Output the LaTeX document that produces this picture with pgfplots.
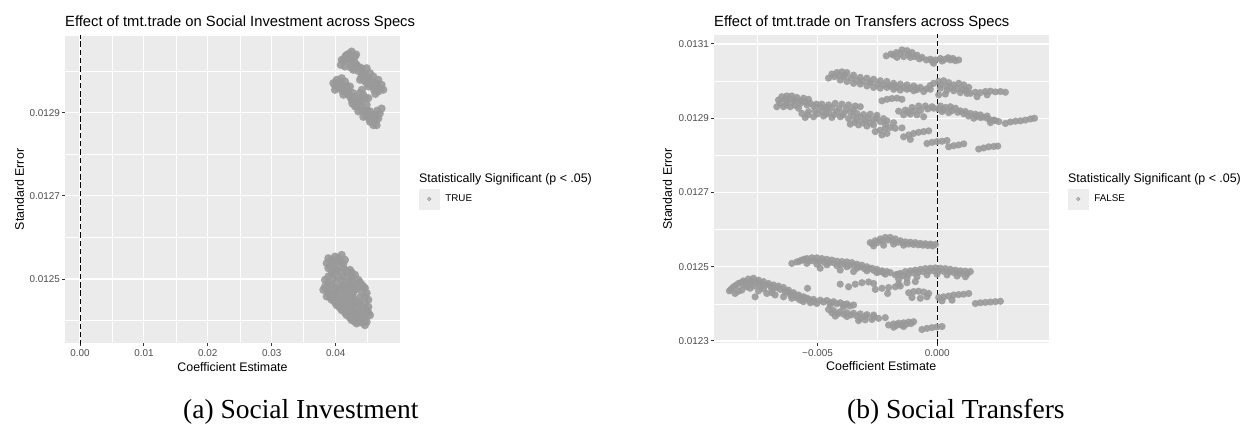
\documentclass[border=0pt]{standalone}
\usepackage{fontspec}
\setmainfont{Liberation Sans}
\newfontfamily\capfont{Liberation Serif}
\usepackage{pgfplots}
\pgfplotsset{compat=1.18}
\definecolor{ggbg}{HTML}{EBEBEB}
\definecolor{ptcol}{HTML}{999999}
\definecolor{tickcol}{HTML}{333333}
\definecolor{ticklab}{HTML}{4D4D4D}
\definecolor{keybg}{HTML}{EDEDED}
\pgfplotsset{ggstyle/.style={
  scale only axis, anchor=north west,
  axis background/.style={fill=ggbg},
  axis line style={draw=none},
  grid=both,
  major grid style={white, line width=1.1pt},
  minor grid style={white, line width=0.55pt},
  tick align=outside,
  major tick length=3pt, minor tick length=0pt,
  xtick pos=left, ytick pos=left,
  tick style={tickcol, line width=1pt},
  scaled ticks=false,
  tick label style={font=\fontsize{9.9}{10}\selectfont, text=ticklab},
  xticklabel style={anchor=north, inner sep=0pt, yshift=-3pt},
  yticklabel style={anchor=east, inner sep=0pt, xshift=-2pt},
  label style={font=\fontsize{12.4}{13}\selectfont, inner sep=0pt},
  xlabel={Coefficient Estimate}, ylabel={Standard Error},
  legend cell align=left,
  clip=true,
}}
\pgfplotsset{ggpts/.style={only marks, mark=*, mark size=3.6pt, color=ptcol,
  mark options={fill=ptcol, fill opacity=0.9, draw opacity=0},
  legend image code/.code={\fill[keybg] (0pt,-10pt) rectangle (20pt,10pt);
     \fill[ptcol, fill opacity=0.6] (10pt,0pt) circle (1.8pt);}}}
\begin{document}
\begin{tikzpicture}
\path[use as bounding box] (0,0) rectangle (1244pt,-425pt);
% ---------------- left panel ----------------
\begin{axis}[ggstyle, at={(65pt,-36pt)}, width=335pt, height=307pt,
  xmin=-0.002347, xmax=0.050063, ymin=0.0123461, ymax=0.0130844,
  xtick={0,0.01,0.02,0.03,0.04}, xticklabels={0.00,0.01,0.02,0.03,0.04},
  minor xtick={0.005,0.015,0.025,0.035,0.045},
  ytick={0.0125,0.0127,0.0129}, yticklabels={0.0125,0.0127,0.0129},
  minor ytick={0.0124,0.0126,0.0128,0.0130},
  xlabel style={at={(axis description cs:0.5,-0.0912)}, anchor=base},
  ylabel style={at={(axis description cs:-0.1224,0.5)}, anchor=base},
  legend style={draw=none, fill=none, inner sep=0pt, outer sep=0pt,
    at={(1.05672,0.46906)}, anchor=west, nodes={inner sep=0pt}, column sep=6pt,
    font=\fontsize{9.8}{10}\selectfont},
]
\addplot[ggpts, mark size=4.1pt] table {
x y
0.04094 0.013027
0.04172 0.013039
0.04250 0.013047
0.04302 0.013035
0.04224 0.013019
0.04328 0.013015
0.04406 0.013007
0.04146 0.013011
0.04276 0.013003
0.04485 0.013007
0.04537 0.012995
0.04589 0.012987
0.04667 0.012979
0.04719 0.012967
0.04745 0.012955
0.04667 0.012951
0.04615 0.012963
0.04563 0.012975
0.04458 0.012975
0.04511 0.012963
0.04432 0.012991
0.04380 0.012979
0.03963 0.012971
0.04015 0.012979
0.04094 0.012983
0.04146 0.012975
0.04067 0.012959
0.03989 0.012955
0.04146 0.012955
0.04198 0.012943
0.04276 0.012947
0.04250 0.012931
0.04328 0.012927
0.04380 0.012935
0.04406 0.012915
0.04485 0.012919
0.04458 0.012903
0.04537 0.012903
0.04563 0.012890
0.04615 0.012882
0.04667 0.012886
0.04641 0.012870
0.04537 0.012878
0.04485 0.012890
0.04302 0.012915
0.04354 0.012903
0.04380 0.012947
0.04432 0.012943
0.04719 0.012910
0.04041 0.012967
0.04224 0.012963
0.04120 0.012943
0.04432 0.012890
0.04589 0.012870
0.04120 0.013025
0.04200 0.013030
0.04355 0.013000
0.04510 0.012985
0.04620 0.012945
0.04020 0.012962
0.04200 0.012955
0.04350 0.012925
0.04500 0.012905
0.04600 0.012895
0.04150 0.013035
0.04210 0.013042
0.04270 0.013025
0.04240 0.013008
0.04300 0.013020
0.04360 0.013010
0.04420 0.012997
0.04460 0.012990
0.04520 0.012980
0.04570 0.012965
0.04640 0.012970
0.04700 0.012958
0.04600 0.012955
0.04490 0.012970
0.04400 0.012985
0.04080 0.013015
0.04320 0.013040
0.03990 0.012965
0.04060 0.012975
0.04110 0.012965
0.04170 0.012965
0.04100 0.012953
0.04170 0.012948
0.04230 0.012938
0.04290 0.012938
0.04260 0.012922
0.04330 0.012915
0.04400 0.012928
0.04420 0.012905
0.04470 0.012897
0.04510 0.012893
0.04560 0.012882
0.04600 0.012878
0.04620 0.012890
0.04690 0.012898
0.04650 0.012905
0.04410 0.012955
0.04460 0.012935
0.04510 0.012935
0.03885 0.012550
0.03989 0.012554
0.04094 0.012558
0.03859 0.012538
0.03963 0.012538
0.04067 0.012542
0.04146 0.012546
0.03885 0.012526
0.04015 0.012522
0.04120 0.012526
0.04224 0.012522
0.03937 0.012514
0.04172 0.012514
0.04302 0.012510
0.03833 0.012498
0.03963 0.012502
0.04094 0.012498
0.04224 0.012498
0.04354 0.012498
0.03833 0.012482
0.03937 0.012486
0.04120 0.012486
0.04250 0.012486
0.04406 0.012486
0.03807 0.012474
0.03911 0.012470
0.04041 0.012474
0.04172 0.012474
0.04302 0.012474
0.04458 0.012478
0.03859 0.012458
0.03989 0.012462
0.04120 0.012462
0.04250 0.012462
0.04485 0.012466
0.03937 0.012450
0.04067 0.012450
0.04198 0.012450
0.04302 0.012446
0.04511 0.012450
0.04015 0.012437
0.04146 0.012437
0.04250 0.012433
0.04380 0.012437
0.04511 0.012433
0.04094 0.012425
0.04224 0.012425
0.04354 0.012421
0.04485 0.012425
0.04172 0.012413
0.04302 0.012413
0.04432 0.012409
0.04537 0.012413
0.04250 0.012401
0.04380 0.012401
0.04485 0.012397
0.04328 0.012393
0.04458 0.012389
0.03937 0.012546
0.04041 0.012550
0.03911 0.012532
0.04015 0.012534
0.04120 0.012536
0.03963 0.012520
0.04067 0.012518
0.04172 0.012520
0.04250 0.012516
0.03885 0.012506
0.04015 0.012508
0.04120 0.012506
0.04250 0.012504
0.03885 0.012490
0.04015 0.012492
0.04172 0.012492
0.04302 0.012490
0.04380 0.012492
0.03859 0.012478
0.03989 0.012478
0.04094 0.012480
0.04224 0.012480
0.04354 0.012480
0.04432 0.012482
0.03885 0.012466
0.04015 0.012468
0.04146 0.012468
0.04276 0.012468
0.04406 0.012470
0.03911 0.012456
0.04041 0.012456
0.04172 0.012456
0.04276 0.012454
0.04380 0.012456
0.04458 0.012458
0.03989 0.012444
0.04120 0.012444
0.04224 0.012442
0.04354 0.012444
0.04458 0.012442
0.04067 0.012431
0.04198 0.012431
0.04302 0.012429
0.04432 0.012431
0.04146 0.012419
0.04276 0.012419
0.04406 0.012417
0.04511 0.012419
0.04224 0.012407
0.04354 0.012405
0.04458 0.012405
0.04302 0.012397
0.04406 0.012395
};
\addlegendentry{TRUE}
\addplot[forget plot, black, line width=0.9pt, dash pattern=on 5.5pt off 2.8pt] coordinates {(0,0.0122) (0,0.0132)};
\end{axis}
% ---------------- right panel ----------------
\begin{axis}[ggstyle, at={(714pt,-35pt)}, width=334.5pt, height=308pt,
  xmin=-0.009318, xmax=0.004638, ymin=0.0122946, ymax=0.0131242,
  xtick={-0.005,0}, xticklabels={−0.005,0.000},
  minor xtick={-0.0075,-0.0025,0.0025},
  ytick={0.0123,0.0125,0.0127,0.0129,0.0131}, yticklabels={0.0123,0.0125,0.0127,0.0129,0.0131},
  minor ytick={0.0124,0.0126,0.0128,0.0130},
  xlabel style={at={(axis description cs:0.5,-0.0909)}, anchor=base},
  ylabel style={at={(axis description cs:-0.1256,0.5)}, anchor=base},
  legend style={draw=none, fill=none, inner sep=0pt, outer sep=0pt,
    at={(1.0583,0.4675)}, anchor=west, nodes={inner sep=0pt}, column sep=6pt,
    font=\fontsize{9.8}{10}\selectfont},
]
\addplot[ggpts] table {
x y
-0.002130 0.013068
-0.001935 0.013073
-0.001713 0.013077
-0.001476 0.013084
-0.001267 0.013082
-0.001058 0.013077
-0.000849 0.013070
-0.000640 0.013064
-0.000459 0.013057
-0.001685 0.013064
-0.001406 0.013066
-0.001128 0.013064
-0.000292 0.013059
-0.000084 0.013057
0.000125 0.013061
0.000334 0.013059
0.000543 0.013057
0.000752 0.013055
0.000891 0.013057
-0.000153 0.013048
-0.001830 0.013070
-0.001550 0.013074
-0.001200 0.013072
-0.000950 0.013066
-0.000750 0.013060
-0.000200 0.013052
0.000200 0.013054
0.000450 0.013063
0.000650 0.013061
-0.004539 0.013008
-0.004400 0.013019
-0.004191 0.013023
-0.003982 0.013025
-0.003773 0.013023
-0.003495 0.013016
-0.003216 0.013010
-0.002938 0.013008
-0.002659 0.013005
-0.002381 0.013001
-0.002102 0.012999
-0.001824 0.012994
-0.001546 0.012992
-0.001267 0.012990
-0.000989 0.012987
-0.000710 0.012983
-0.004052 0.013003
-0.003773 0.012999
-0.003495 0.012994
-0.003216 0.012992
-0.002938 0.012987
-0.002659 0.012983
-0.002381 0.012981
-0.002102 0.012983
-0.001824 0.012978
-0.001546 0.012976
-0.001267 0.012978
-0.000989 0.012974
-0.000571 0.012972
-0.000292 0.012978
-0.000153 0.012994
0.000056 0.012999
0.000265 0.013001
0.000473 0.012996
0.000682 0.012990
0.000891 0.012994
0.001100 0.012990
0.001309 0.012983
0.000125 0.012981
0.000404 0.012976
0.000682 0.012974
0.000961 0.012969
0.001239 0.012967
0.000056 0.012963
0.000334 0.012965
-0.003913 0.013012
-0.002798 0.012996
-0.001824 0.012987
-0.000849 0.012981
-0.004300 0.013012
-0.004100 0.013015
-0.003850 0.013017
-0.003600 0.013008
-0.003350 0.013003
-0.003100 0.013000
-0.002800 0.012998
-0.002500 0.012992
-0.002250 0.012990
-0.002000 0.012988
-0.001700 0.012984
-0.001400 0.012983
-0.001150 0.012981
-0.000850 0.012977
-0.000450 0.012979
-0.000300 0.012988
0.000150 0.012990
0.000400 0.012986
0.000600 0.012982
0.000850 0.012980
0.001050 0.012978
0.001200 0.012975
0.001378 0.012967
0.001587 0.012970
0.001796 0.012969
0.002005 0.012972
0.002214 0.012973
0.002423 0.012971
0.002632 0.012972
0.002840 0.012970
0.001657 0.012958
0.002075 0.012963
-0.006697 0.012931
-0.006628 0.012949
-0.006489 0.012958
-0.006280 0.012960
-0.006071 0.012960
-0.005862 0.012956
-0.005583 0.012954
-0.005375 0.012951
-0.006558 0.012940
-0.006280 0.012945
-0.006001 0.012945
-0.005723 0.012940
-0.005444 0.012936
-0.005166 0.012933
-0.004887 0.012931
-0.004609 0.012929
-0.006140 0.012931
-0.005792 0.012927
-0.006419 0.012931
-0.006350 0.012952
-0.006150 0.012952
-0.005950 0.012950
-0.005700 0.012947
-0.005500 0.012944
-0.005300 0.012940
-0.005050 0.012938
-0.006300 0.012936
-0.005950 0.012935
-0.004818 0.012938
-0.004539 0.012936
-0.004261 0.012940
-0.003982 0.012938
-0.003704 0.012936
-0.003425 0.012933
-0.003216 0.012931
-0.005653 0.012913
-0.005375 0.012918
-0.005096 0.012920
-0.004818 0.012918
-0.004539 0.012915
-0.004191 0.012918
-0.003913 0.012913
-0.003634 0.012917
-0.003356 0.012913
-0.003077 0.012910
-0.002799 0.012911
-0.002520 0.012908
-0.005514 0.012902
-0.005166 0.012904
-0.004748 0.012906
-0.004400 0.012902
-0.004052 0.012904
-0.003704 0.012899
-0.003356 0.012895
-0.003007 0.012893
-0.002659 0.012895
-0.002381 0.012891
-0.002102 0.012893
-0.001824 0.012888
-0.003634 0.012884
-0.003286 0.012882
-0.002938 0.012879
-0.002659 0.012882
-0.002172 0.012884
-0.005400 0.012909
-0.005000 0.012912
-0.004650 0.012911
-0.004300 0.012910
-0.003950 0.012908
-0.003500 0.012906
-0.003200 0.012903
-0.002900 0.012901
-0.002550 0.012900
-0.002250 0.012899
-0.004650 0.012926
-0.004400 0.012928
-0.004100 0.012926
-0.003800 0.012925
-0.003500 0.012924
-0.003450 0.012889
-0.003100 0.012887
-0.002800 0.012887
-0.002311 0.012947
-0.002102 0.012951
-0.001894 0.012953
-0.001685 0.012954
-0.001476 0.012951
-0.001615 0.012919
-0.001337 0.012922
-0.001058 0.012929
-0.000780 0.012933
-0.000501 0.012933
-0.000223 0.012931
-0.001406 0.012909
-0.001128 0.012911
-0.000849 0.012909
-0.000571 0.012904
-0.001200 0.012917
-0.000950 0.012920
-0.000700 0.012921
-0.000400 0.012925
0.000125 0.012933
0.000334 0.012929
0.000543 0.012931
0.000752 0.012927
0.000195 0.012918
0.000473 0.012915
-0.000153 0.012927
0.000050 0.012925
0.000250 0.012923
0.000600 0.012920
0.000850 0.012916
0.000961 0.012920
0.001170 0.012918
0.001378 0.012913
0.001587 0.012911
0.001796 0.012909
0.002075 0.012906
0.001100 0.012912
0.001300 0.012906
0.001650 0.012905
0.001900 0.012903
0.001518 0.012900
0.001796 0.012902
0.002075 0.012900
0.002353 0.012895
0.002562 0.012891
0.002214 0.012888
0.002200 0.012896
0.002400 0.012894
0.002840 0.012886
0.003049 0.012890
0.003258 0.012892
0.003467 0.012893
0.003676 0.012895
0.003885 0.012898
0.004052 0.012900
-0.002590 0.012864
-0.002381 0.012868
-0.002172 0.012873
-0.001963 0.012875
-0.001754 0.012873
-0.002102 0.012859
-0.002311 0.012855
-0.001476 0.012874
-0.001406 0.012850
-0.001197 0.012855
-0.000989 0.012859
-0.000780 0.012862
-0.000571 0.012864
-0.000362 0.012866
-0.001128 0.012843
-0.000432 0.012832
-0.000223 0.012835
-0.000014 0.012837
0.000195 0.012838
0.000404 0.012840
0.000473 0.012823
0.000682 0.012826
0.000891 0.012828
0.001100 0.012831
0.001727 0.012817
0.001935 0.012820
0.002144 0.012823
0.002353 0.012824
0.002520 0.012825
-0.002799 0.012565
-0.002590 0.012570
-0.002381 0.012575
-0.002172 0.012579
-0.001963 0.012579
-0.001754 0.012575
-0.001546 0.012570
-0.001337 0.012567
-0.001128 0.012566
-0.000919 0.012565
-0.000710 0.012563
-0.000501 0.012562
-0.000292 0.012561
-0.000084 0.012560
-0.002659 0.012556
-0.002242 0.012558
-0.001824 0.012561
-0.001406 0.012558
-0.002700 0.012562
-0.002500 0.012565
-0.002300 0.012570
-0.002050 0.012572
-0.001850 0.012570
-0.001650 0.012566
-0.001450 0.012564
-0.001200 0.012561
-0.001000 0.012560
-0.000800 0.012559
-0.000600 0.012558
-0.000400 0.012557
-0.000200 0.012556
-0.006071 0.012509
-0.005862 0.012513
-0.005653 0.012518
-0.005444 0.012522
-0.005235 0.012524
-0.005027 0.012524
-0.004818 0.012522
-0.004609 0.012520
-0.004400 0.012518
-0.004191 0.012515
-0.003982 0.012514
-0.003773 0.012513
-0.003565 0.012511
-0.003356 0.012507
-0.003147 0.012504
-0.002938 0.012500
-0.002729 0.012496
-0.002520 0.012493
-0.002311 0.012489
-0.002103 0.012487
-0.001963 0.012484
-0.005444 0.012509
-0.005027 0.012507
-0.004609 0.012505
-0.004191 0.012503
-0.003773 0.012500
-0.003356 0.012496
-0.002938 0.012489
-0.002520 0.012484
-0.002172 0.012480
-0.004887 0.012496
-0.004052 0.012491
-0.003495 0.012487
-0.005750 0.012515
-0.005550 0.012520
-0.005350 0.012515
-0.005150 0.012516
-0.004900 0.012514
-0.004700 0.012512
-0.004500 0.012511
-0.004300 0.012510
-0.004050 0.012507
-0.003850 0.012506
-0.003650 0.012504
-0.003450 0.012502
-0.003250 0.012500
-0.003050 0.012495
-0.002850 0.012494
-0.002650 0.012490
-0.002400 0.012487
-0.002250 0.012484
-0.001754 0.012478
-0.001546 0.012482
-0.001337 0.012487
-0.001128 0.012489
-0.000919 0.012491
-0.000710 0.012493
-0.000501 0.012495
-0.000292 0.012496
-0.000084 0.012497
0.000125 0.012496
0.000334 0.012495
0.000543 0.012493
0.000752 0.012491
0.000961 0.012489
0.001170 0.012488
0.001378 0.012487
-0.001615 0.012466
-0.001267 0.012469
-0.000849 0.012473
-0.000432 0.012478
-0.000014 0.012480
0.000404 0.012478
0.000822 0.012475
0.001170 0.012473
-0.001650 0.012480
-0.001450 0.012476
-0.001200 0.012480
-0.001000 0.012484
-0.000800 0.012485
-0.000600 0.012487
-0.000350 0.012488
-0.000150 0.012489
0.000050 0.012489
0.000250 0.012488
0.000500 0.012486
0.000700 0.012484
0.000950 0.012482
0.001250 0.012481
-0.008675 0.012435
-0.008507 0.012446
-0.008299 0.012455
-0.008090 0.012462
-0.007881 0.012467
-0.007672 0.012469
-0.007463 0.012464
-0.007254 0.012460
-0.007046 0.012455
-0.006837 0.012451
-0.006628 0.012448
-0.006419 0.012444
-0.006210 0.012437
-0.006001 0.012430
-0.005792 0.012424
-0.005584 0.012419
-0.005375 0.012413
-0.005166 0.012406
-0.008438 0.012428
-0.008159 0.012437
-0.007811 0.012442
-0.007463 0.012435
-0.007115 0.012428
-0.006767 0.012424
-0.006419 0.012419
-0.006071 0.012415
-0.005723 0.012410
-0.007811 0.012455
-0.007394 0.012448
-0.006906 0.012439
-0.007603 0.012419
-0.008090 0.012451
-0.008600 0.012440
-0.008400 0.012450
-0.008200 0.012457
-0.008000 0.012458
-0.007750 0.012461
-0.007550 0.012458
-0.007350 0.012455
-0.007150 0.012451
-0.006950 0.012447
-0.006750 0.012443
-0.006550 0.012439
-0.006350 0.012432
-0.006150 0.012427
-0.005900 0.012421
-0.008300 0.012434
-0.007950 0.012446
-0.007650 0.012448
-0.007250 0.012440
-0.006900 0.012430
-0.006280 0.012433
-0.006001 0.012426
-0.005723 0.012419
-0.005444 0.012415
-0.005166 0.012412
-0.004887 0.012410
-0.004609 0.012409
-0.004330 0.012406
-0.004052 0.012403
-0.003773 0.012400
-0.003495 0.012397
-0.005584 0.012406
-0.005027 0.012401
-0.004470 0.012397
-0.003913 0.012392
-0.006100 0.012422
-0.005850 0.012416
-0.005600 0.012413
-0.005300 0.012408
-0.004750 0.012405
-0.004450 0.012403
-0.004200 0.012400
-0.003900 0.012398
-0.003650 0.012394
-0.005300 0.012403
-0.003704 0.012446
-0.003425 0.012453
-0.003147 0.012457
-0.002868 0.012459
-0.002659 0.012455
-0.002590 0.012439
-0.002311 0.012442
-0.002033 0.012444
-0.001754 0.012446
-0.001546 0.012448
-0.001197 0.012430
-0.000989 0.012433
-0.000780 0.012434
-0.000571 0.012432
-0.000362 0.012428
-0.001058 0.012417
-0.000710 0.012415
-0.000432 0.012419
0.000056 0.012417
0.000265 0.012419
0.000473 0.012421
0.000682 0.012424
0.000891 0.012425
0.001100 0.012426
0.001309 0.012428
0.000195 0.012408
0.000613 0.012410
0.001587 0.012401
0.001796 0.012403
0.002005 0.012404
0.002214 0.012405
0.002423 0.012406
0.002632 0.012407
-0.004539 0.012385
-0.004330 0.012382
-0.004052 0.012379
-0.003773 0.012376
-0.003495 0.012375
-0.003216 0.012373
-0.002938 0.012371
-0.002659 0.012370
-0.004261 0.012367
-0.003773 0.012366
-0.003216 0.012361
-0.002659 0.012364
-0.004400 0.012376
-0.004150 0.012373
-0.003900 0.012372
-0.003600 0.012370
-0.003350 0.012367
-0.003000 0.012366
-0.003286 0.012355
-0.003008 0.012357
-0.002729 0.012358
-0.002451 0.012361
-0.002172 0.012363
-0.002033 0.012343
-0.001824 0.012346
-0.001615 0.012348
-0.001406 0.012349
-0.001197 0.012351
-0.000989 0.012352
-0.001824 0.012337
-0.001406 0.012339
-0.001700 0.012342
-0.001500 0.012343
-0.001300 0.012345
-0.001100 0.012347
-0.000641 0.012331
-0.000432 0.012334
-0.000223 0.012336
-0.000014 0.012338
0.000195 0.012339
-0.004052 0.012453
-0.002075 0.012428
-0.001615 0.012453
-0.001267 0.012457
-0.000919 0.012460
-0.005416 0.012442
};
\addlegendentry{FALSE}
\addplot[forget plot, black, line width=0.9pt, dash pattern=on 5.5pt off 2.8pt] coordinates {(0,0.0122) (0,0.0132)};
\end{axis}
% ---------------- titles, legend titles, captions ----------------
\node[anchor=base west, inner sep=0pt, font=\fontsize{14.75}{15}\selectfont] at (65pt,-26.8pt) {Effect of tmt.trade on Social Investment across Specs};
\node[anchor=base west, inner sep=0pt, font=\fontsize{14.75}{15}\selectfont] at (714pt,-26.8pt) {Effect of tmt.trade on Transfers across Specs};
\node[anchor=base west, inner sep=0pt, font=\fontsize{12.4}{13}\selectfont] at (419pt,-182.3pt) {Statistically Significant (p < .05)};
\node[anchor=base west, inner sep=0pt, font=\fontsize{12.4}{13}\selectfont] at (1068pt,-182.3pt) {Statistically Significant (p < .05)};
\node[anchor=base west, inner sep=0pt, font=\capfont\fontsize{27.5}{30}\selectfont] at (183pt,-418.5pt) {(a) Social Investment};
\node[anchor=base west, inner sep=0pt, font=\capfont\fontsize{27.5}{30}\selectfont] at (847pt,-418.5pt) {(b) Social Transfers};
\end{tikzpicture}
\end{document}
